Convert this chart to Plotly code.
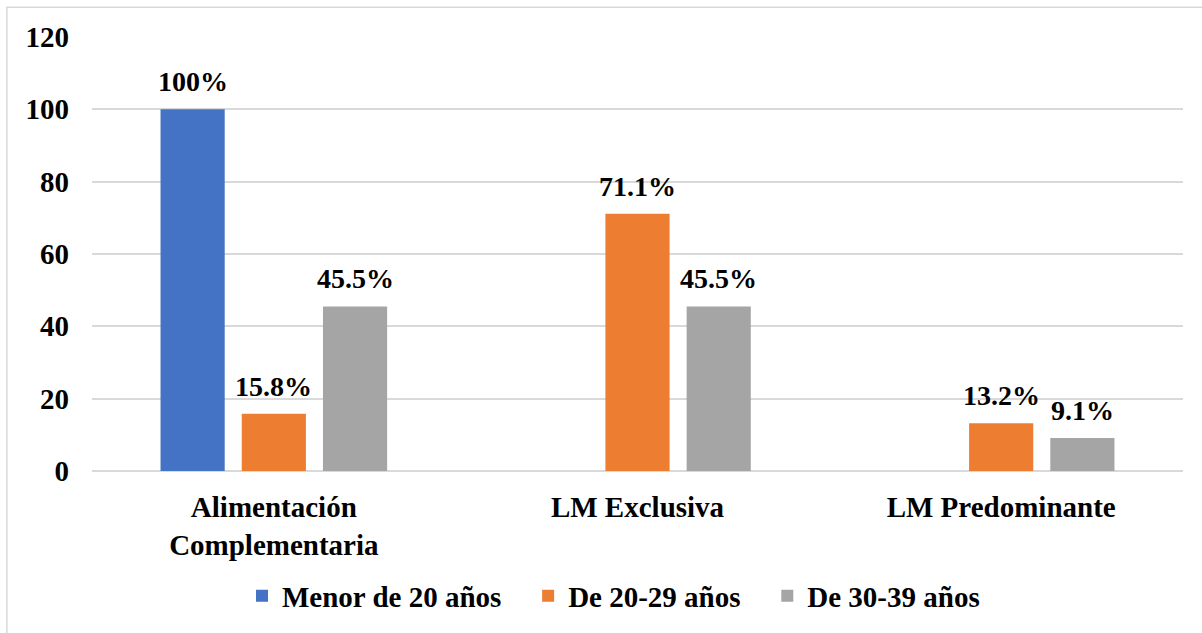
import plotly.graph_objects as go

categories = ["Alimentación<br>Complementaria", "LM Exclusiva", "LM Predominante"]
series_names = ["Menor de 20 años", "De 20-29 años", "De 30-39 años"]
menor_20 = [100, None, None]
de_20_29 = [15.8, 71.1, 13.2]
de_30_39 = [45.5, 45.5, 9.1]
y_ticks = [0, 20, 40, 60, 80, 100, 120]

colors = ["#4472C4", "#ED7D31", "#A5A5A5"]
FONT = "'Liberation Serif', 'Times New Roman', Times, serif"

W, H = 1202, 633
M_L, M_R, M_T, M_B = 92, 19, 37, 159
BARGAP, GROUPGAP = 0.33, 0.21

all_series = [menor_20, de_20_29, de_30_39]
NBSP = "\u00a0"

fig = go.Figure()
for name, vals, col in zip(series_names, all_series, colors):
    fig.add_trace(go.Bar(
        name=f"<b>{name}</b>" + NBSP * 3,
        x=categories,
        y=vals,
        marker=dict(color=col, line=dict(width=0)),
    ))

# value labels above each bar, offset to the bar's slot inside its group
plot_w = W - M_L - M_R
slot = plot_w / len(categories) * (1 - BARGAP) / len(all_series)
for i, vals in enumerate(all_series):
    for cat, v in zip(categories, vals):
        if v is None:
            continue
        fig.add_annotation(
            x=cat, y=v, xref="x", yref="y",
            text=f"<b>{v:g}%</b>", showarrow=False,
            xanchor="center", yanchor="bottom",
            xshift=(i - (len(all_series) - 1) / 2) * slot, yshift=10,
            font=dict(family=FONT, size=28, color="#000000"),
        )

# light outer frame of the chart area
fig.add_shape(type="rect", xref="paper", yref="paper",
              x0=-0.078, x1=1.3, y0=-0.6, y1=1.0686,
              line=dict(color="#D9D9D9", width=1.5), fillcolor="rgba(0,0,0,0)", layer="below")

fig.update_layout(
    width=W, height=H,
    margin=dict(l=M_L, r=M_R, t=M_T, b=M_B),
    paper_bgcolor="white", plot_bgcolor="white",
    barmode="group",
    bargap=BARGAP,
    bargroupgap=GROUPGAP,
    font=dict(family=FONT, size=29, color="#000000"),
    showlegend=True,
    legend=dict(
        orientation="h", x=(242 - M_L) / plot_w, xanchor="left", y=-0.288, yanchor="middle",
        font=dict(family=FONT, size=29, color="#000000"),
        itemwidth=30,
        traceorder="normal",
    ),
)
fig.update_xaxes(
    showline=False, showgrid=False, ticks="",
    tickvals=categories, ticktext=[f"<b>{c}</b>" for c in categories],
    tickfont=dict(family=FONT, size=29, color="#000000"),
    ticklabelstandoff=16,
)
fig.update_yaxes(
    range=[0, 120], tickvals=y_ticks, ticktext=[f"<b>{t}</b>" for t in y_ticks],
    showgrid=True, gridcolor="#D9D9D9", gridwidth=2,
    zeroline=True, zerolinecolor="#D9D9D9", zerolinewidth=2,
    showline=False, ticks="", ticklabelstandoff=22,
    tickfont=dict(family=FONT, size=29, color="#000000"),
)

fig.write_html("out.html")
